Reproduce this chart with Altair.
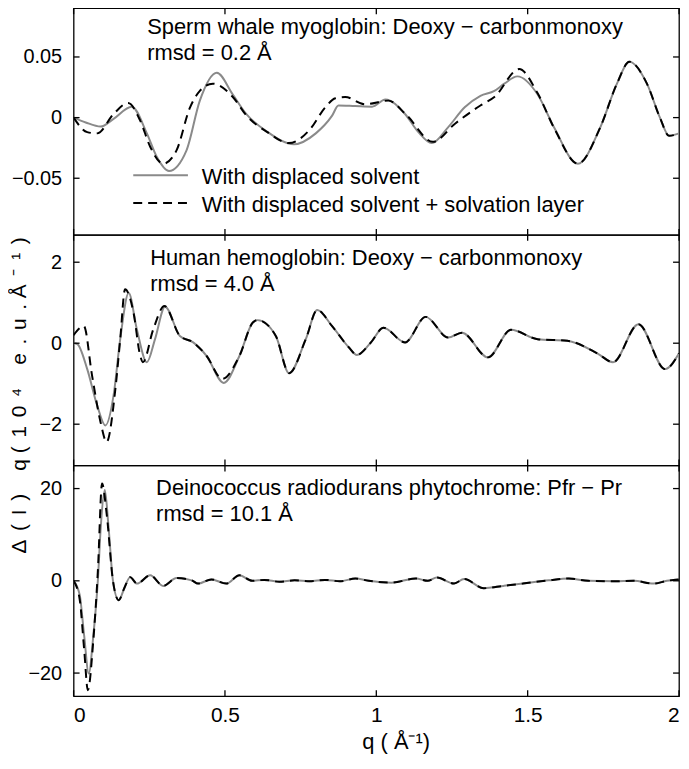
import altair as alt
import pandas as pd

FONT = "Liberation Sans"

# ---------------- data ----------------
X_TICKS = [0, 0.5, 1, 1.5, 2]

# Panel 1: Sperm whale myoglobin
Q1_GRAY = [0, 0.04, 0.089, 0.132, 0.192, 0.242, 0.275, 0.315, 0.373, 0.417, 0.473, 0.526, 0.57,
           0.636, 0.728, 0.8, 0.854, 0.875, 0.93, 0.986, 1.03, 1.095, 1.139, 1.183, 1.237, 1.292,
           1.344, 1.39, 1.423, 1.466, 1.533, 1.587, 1.666, 1.74, 1.795, 1.836, 1.894, 1.937, 1.967, 2.0]
V1_GRAY = [0, -0.004, -0.0074, -0.001, 0.009, -0.013, -0.0325, -0.044, -0.027, 0.014, 0.037, 0.019, 0.003,
           -0.011, -0.022, -0.013, 0.0016, 0.010, 0.0095, 0.009, 0.015, 0.003, -0.012, -0.021, -0.008, 0.0085,
           0.018, 0.022, 0.028, 0.034, 0.019, -0.008, -0.038, -0.008, 0.028, 0.046, 0.028, 0.0, -0.015, -0.013]

Q1_DASH = [0, 0.045, 0.078, 0.132, 0.18, 0.22, 0.253, 0.296, 0.34, 0.384, 0.417, 0.46, 0.526, 0.57,
           0.64, 0.711, 0.78, 0.83, 0.865, 0.897, 0.963, 1.04, 1.10, 1.187, 1.26, 1.344, 1.39, 1.472,
           1.533, 1.59, 1.666, 1.74, 1.795, 1.836, 1.894, 1.937, 1.967, 2.0]
V1_DASH = [0, -0.012, -0.013, 0.003, 0.012, -0.0025, -0.024, -0.038, -0.027, 0.008, 0.022, 0.028, 0.017, 0.002,
           -0.012, -0.021, -0.01, 0.008, 0.016, 0.017, 0.011, 0.014, 0.002, -0.020, -0.005, 0.010, 0.017, 0.040,
           0.020, -0.010, -0.038, -0.008, 0.028, 0.046, 0.028, 0.0, -0.015, -0.013]

# Panel 2: Human hemoglobin
Q2_GRAY = [0, 0.012, 0.045, 0.078, 0.105, 0.132, 0.154, 0.182, 0.209, 0.242, 0.269, 0.302, 0.351, 0.395,
           0.439, 0.496, 0.548, 0.592, 0.608, 0.668, 0.712, 0.767, 0.805, 0.854, 0.909, 0.936, 0.98, 1.024,
           1.095, 1.163, 1.237, 1.283, 1.369, 1.445, 1.533, 1.631, 1.73, 1.782, 1.866, 1.954, 2.0]
V2_GRAY = [0, -0.02, -0.64, -1.54, -2.03, -1.29, 0.1, 1.24, 0.34, -0.47, 0.1, 0.90, 0.18, 0.02,
           -0.31, -0.98, -0.31, 0.51, 0.57, 0.18, -0.74, 0.1, 0.82, 0.42, -0.1, -0.29, 0.0, 0.38,
           0.02, 0.65, 0.14, 0.26, -0.35, 0.33, 0.1, 0.06, -0.25, -0.47, 0.47, -0.64, -0.25]

Q2_DASH = [0, 0.034, 0.061, 0.089, 0.109, 0.138, 0.154, 0.17, 0.198, 0.22, 0.229, 0.263, 0.3, 0.351,
           0.395, 0.439, 0.491, 0.548, 0.592, 0.608, 0.668, 0.712, 0.767, 0.805, 0.854, 0.909, 0.936, 0.98,
           1.024, 1.095, 1.163, 1.237, 1.283, 1.369, 1.445, 1.533, 1.631, 1.73, 1.782, 1.866, 1.954, 2.0]
V2_DASH = [0.2, 0.42, -0.8, -1.95, -2.44, -1.13, 0.1, 1.33, 0.75, -0.31, -0.47, 0.34, 0.92, 0.18,
           0.02, -0.31, -0.88, -0.31, 0.51, 0.57, 0.18, -0.74, 0.1, 0.82, 0.42, -0.1, -0.29, 0.0,
           0.38, 0.02, 0.65, 0.14, 0.26, -0.35, 0.33, 0.1, 0.06, -0.25, -0.47, 0.47, -0.64, -0.25]

# Panel 3: Deinococcus radiodurans phytochrome
Q3_TAIL = [0.149, 0.168, 0.187, 0.209, 0.253, 0.296, 0.34, 0.39, 0.411, 0.455, 0.504, 0.548, 0.59,
           0.63, 0.68, 0.73, 0.78, 0.83, 0.88, 0.931, 0.975, 1.05, 1.13, 1.17, 1.2, 1.257, 1.29,
           1.355, 1.42, 1.484, 1.57, 1.636, 1.7, 1.785, 1.85, 1.916, 1.96, 2.0]
V3_TAIL = [-4.2, -1.5, 0.8, -0.6, 1.2, -1.1, 0.6, 0.1, -0.6, 0.3, -0.6, 1.2, 0.0,
           0.2, -0.2, 0.1, -0.1, 0.2, -0.1, 0.5, 0.0, -0.4, 0.5, 0.0, 0.7, -0.6, 0.4,
           -1.6, -1.1, -0.6, 0.1, 0.5, 0.0, -0.1, 0.0, -0.6, 0.0, 0.3]
Q3_GRAY = [0, 0.02, 0.035, 0.05, 0.065, 0.08, 0.09, 0.103, 0.115, 0.13] + Q3_TAIL
V3_GRAY = [0, -3, -12, -20.1, -12, 0, 12, 19.7, 12, 0] + V3_TAIL
Q3_DASH = [0, 0.02, 0.035, 0.047, 0.065, 0.08, 0.094, 0.11, 0.13] + Q3_TAIL
V3_DASH = [0, -4, -15, -23.7, -13, 2, 21.1, 14, 0] + V3_TAIL

Y_TICKS = [[-0.05, 0, 0.05], [-2, 0, 2], [-20, 0, 20]]
Y_DOMAINS = [[-0.0967, 0.0902], [-3.02, 2.675], [-25, 25]]

ANNOT = [["Sperm whale myoglobin: Deoxy \u2212 carbonmonoxy", "rmsd = 0.2 \u00c5"],
         ["Human hemoglobin: Deoxy \u2212 carbonmonoxy", "rmsd = 4.0 \u00c5"],
         ["Deinococcus radiodurans phytochrome: Pfr \u2212 Pr", "rmsd = 10.1 \u00c5"]]
LEGEND = ["With displaced solvent", "With displaced solvent + solvation layer"]

SP = "\u2004\u200a"
Y_TITLE = SP.join(list("\u0394(I) q")) + "  " + SP.join(list("(10\u2074 e.u.")) + "  " + SP.join(list("\u00c5\u207b\u00b9)"))
X_TITLE = "q ( \u00c5\u207b\u00b9)"

# ---------------- styling ----------------
W = 609
HEIGHTS = [228, 232, 232]
GRAY = "#8a8a8a"
DASH = [9, 6]
TICK_LEN = 6
ANN_POS = [(74, 26), (77, 30), (83, 30)]
LEG_Y = [168, 196]
TXT = 22


def one():
    return pd.DataFrame({"k": [0]})


def make_panel(i, gq, gv, dq, dv):
    H = HEIGHTS[i]
    xs = alt.Scale(domain=[0, 2], nice=False)
    ys = alt.Scale(domain=Y_DOMAINS[i], nice=False, zero=False)
    if i == 2:
        xaxis = alt.Axis(values=X_TICKS, format="~r", labelPadding=9, labelFontSize=21,
                         title=X_TITLE, titleX=324, titleY=53, titleAlign="center",
                         titleBaseline="alphabetic", titleFontSize=22)
    else:
        xaxis = None
    if i == 1:
        yaxis = alt.Axis(values=Y_TICKS[i], format="~r", labelPadding=12,
                         title=Y_TITLE, titleX=-48, titleY=161, titleAngle=270,
                         titleAlign="center", titleBaseline="alphabetic", titleFontSize=21)
    else:
        yaxis = alt.Axis(values=Y_TICKS[i], format="~r", labelPadding=12, title=None)

    X = lambda f: alt.X(f, scale=xs, axis=xaxis)
    Y = lambda f: alt.Y(f, scale=ys, axis=yaxis)

    gray = alt.Chart(pd.DataFrame({"q": gq, "v": gv})).mark_line(
        color=GRAY, strokeWidth=2, interpolate="monotone", clip=True
    ).encode(x=X("q:Q"), y=Y("v:Q"))

    dash = alt.Chart(pd.DataFrame({"q": dq, "v": dv})).mark_line(
        color="black", strokeWidth=2, strokeDash=DASH, interpolate="monotone", clip=True
    ).encode(x=X("q:Q"), y=Y("v:Q"))

    xt = alt.Chart(pd.DataFrame({"q": X_TICKS}))
    yt = alt.Chart(pd.DataFrame({"v": Y_TICKS[i]}))
    rule = dict(color="black", strokeWidth=1.3)
    ticks = [
        xt.mark_rule(**rule).encode(x=X("q:Q"), y=alt.value(0), y2=alt.value(TICK_LEN)),
        xt.mark_rule(**rule).encode(x=X("q:Q"), y=alt.value(H), y2=alt.value(H - TICK_LEN)),
        yt.mark_rule(**rule).encode(y=Y("v:Q"), x=alt.value(0), x2=alt.value(TICK_LEN)),
        yt.mark_rule(**rule).encode(y=Y("v:Q"), x=alt.value(W), x2=alt.value(W - TICK_LEN)),
    ]

    ax, ay = ANN_POS[i]
    ann = alt.Chart(one()).mark_text(
        align="left", baseline="alphabetic", font=FONT, fontSize=TXT, color="black", lineHeight=26
    ).encode(x=alt.value(ax), y=alt.value(ay), text=alt.value(ANNOT[i]))

    layers = [gray, dash] + ticks + [ann]

    if i == 0:
        layers += [
            alt.Chart(one()).mark_rule(color=GRAY, strokeWidth=2).encode(
                x=alt.value(60), x2=alt.value(115), y=alt.value(LEG_Y[0])),
            alt.Chart(one()).mark_rule(color="black", strokeWidth=2, strokeDash=DASH).encode(
                x=alt.value(60), x2=alt.value(115), y=alt.value(LEG_Y[1])),
            alt.Chart(one()).mark_text(align="left", baseline="middle", font=FONT, fontSize=TXT,
                                       color="black").encode(
                x=alt.value(129), y=alt.value(LEG_Y[0] + 2), text=alt.value(LEGEND[0])),
            alt.Chart(one()).mark_text(align="left", baseline="middle", font=FONT, fontSize=TXT,
                                       color="black").encode(
                x=alt.value(129), y=alt.value(LEG_Y[1] + 2), text=alt.value(LEGEND[1])),
        ]

    return alt.layer(*layers).properties(width=W, height=H)


p1 = make_panel(0, Q1_GRAY, V1_GRAY, Q1_DASH, V1_DASH)
p2 = make_panel(1, Q2_GRAY, V2_GRAY, Q2_DASH, V2_DASH)
p3 = make_panel(2, Q3_GRAY, V3_GRAY, Q3_DASH, V3_DASH)

chart = alt.vconcat(p1, p2, p3, spacing=0, bounds="flush").properties(
    padding={"left": 0, "top": -4, "right": 0, "bottom": 0}
).configure_view(
    stroke="black", strokeWidth=1.3
).configure_axis(
    labelFont=FONT, labelFontSize=20, labelColor="black",
    titleFont=FONT, titleColor="black", titleFontWeight="normal",
    grid=False, ticks=False, tickSize=0, domain=False
)

chart.save("out.html", embed_options={"renderer": "svg", "actions": False})
